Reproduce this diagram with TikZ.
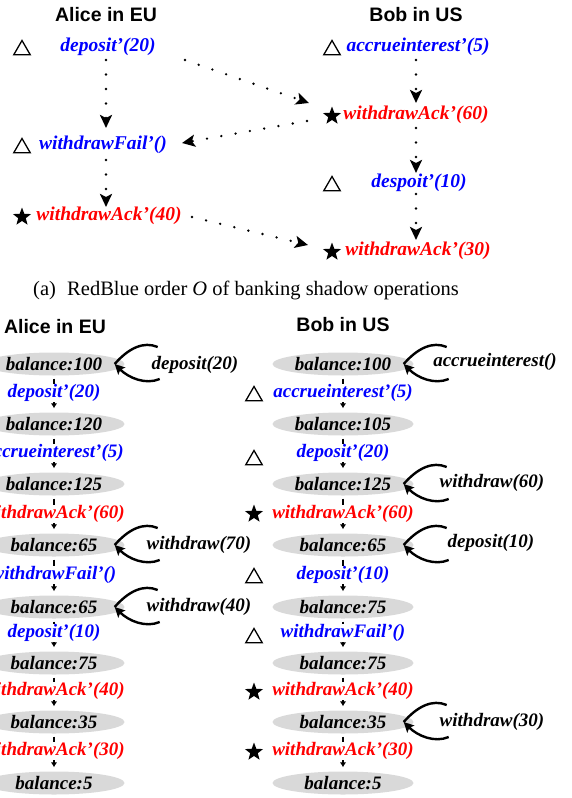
\documentclass[tikz,border=0pt]{standalone}
\usepackage{fontspec}
\setmainfont{Liberation Serif}
\newfontfamily\hdrfont{Liberation Sans}
\usetikzlibrary{arrows.meta,shapes.geometric}
\definecolor{opblue}{RGB}{0,0,255}
\definecolor{opred}{RGB}{255,0,0}
\definecolor{balgray}{RGB}{217,217,217}
\tikzset{
  hdr/.style={font=\hdrfont\bfseries\fontsize{19.5}{22}\selectfont, inner sep=0pt},
  topop/.style={font=\bfseries\itshape\fontsize{19.5}{22}\selectfont, inner sep=0pt},
  lowop/.style={font=\bfseries\itshape\fontsize{19}{22}\selectfont, inner sep=0pt, fill=white},
  bluetxt/.style={text=opblue},
  redtxt/.style={text=opred},
  tri/.style={regular polygon, regular polygon sides=3, draw, line width=1.3pt, minimum size=19pt, inner sep=0pt},
  starsym/.style={star, star points=5, star point ratio=2.4, fill=black, minimum size=19pt, inner sep=0pt},
  dotarrow/.style={line width=2.6pt, line cap=round, dash pattern=on 0pt off 14.5pt, -{Stealth[length=13pt,width=12pt,inset=3pt]}},
  bal/.style={ellipse, fill=balgray, minimum width=141pt, minimum height=23pt, inner sep=0pt, font=\bfseries\itshape\fontsize{19}{22}\selectfont},
  flow/.style={line width=2pt, -{Latex[length=5pt,width=6.5pt]}},
  loopline/.style={line width=2.4pt},
  looparrow/.style={line width=2.4pt, -{Stealth[length=10pt,width=10pt,inset=2pt]}},
  looplbl/.style={font=\bfseries\itshape\fontsize{19}{22}\selectfont, inner sep=0pt},
}
\begin{document}
\begin{tikzpicture}[x=1pt,y=-1pt]
\useasboundingbox (0,0) rectangle (571,798);
% ---------- top part ----------
\node[hdr] (hA) at (106,15) {Alice in EU};
\node[hdr] (hB) at (416,15) {Bob in US};
\node[tri] (t1) at (22,50) {};
\node[topop,bluetxt] (d20) at (108,47) {deposit'(20)};
\node[tri] (t2) at (22,148) {};
\node[topop,bluetxt] (wf) at (103,145) {withdrawFail'()};
\node[starsym] (s40) at (22,217) {};
\node[topop,redtxt] (wa40) at (109,216) {withdrawAck'(40)};
\node[tri] (t3) at (332,50) {};
\node[topop,bluetxt] (ai5) at (418,47) {accrueinterest'(5)};
\node[starsym] (s60) at (332,116) {};
\node[topop,redtxt] (wa60) at (416,115) {withdrawAck'(60)};
\node[tri] (t4) at (332,186) {};
\node[topop,bluetxt] (dp10) at (419,183) {despoit'(10)};
\node[starsym] (s30) at (332,252) {};
\node[topop,redtxt] (wa30) at (418,251) {withdrawAck'(30)};
\draw[dotarrow] ([shift={(-2,4)}]d20.south) -- ([shift={(3,-8)}]wf.north);
\draw[dotarrow] ([shift={(3,6)}]wf.south) -- ([shift={(-3,0)}]wa40.north);
\draw[dotarrow] ([shift={(-2,4)}]ai5.south) -- ([shift={(0,-3)}]wa60.north);
\draw[dotarrow] ([shift={(0,4)}]wa60.south) -- ([shift={(-3,-1)}]dp10.north);
\draw[dotarrow] ([shift={(-3,2)}]dp10.south) -- ([shift={(-2,-2)}]wa30.north);
\draw[dotarrow] ([shift={(77,13)}]d20.center) -- ([shift={(-23,-13)}]s60.center);
\draw[dotarrow] ([shift={(-25,5)}]s60.center) -- ([shift={(79,-2)}]wf.center);
\draw[dotarrow] ([shift={(83,1)}]wa40.center) -- ([shift={(-24,-7)}]s30.center);
% ---------- caption ----------
\node[anchor=west, font=\fontsize{20.5}{24}\selectfont, inner sep=0pt] (cap) at (33,290)
  {(a)\hspace{0.55em}RedBlue order \textit{O} of banking shadow operations};
% ---------- lower part ----------
\node[hdr] (hA2) at (55,327) {Alice in EU};
\node[hdr] (hB2) at (343,325) {Bob in US};
\node[bal] (bA1) at (54,364) {balance:100};
\node[bal] (bA2) at (54,424) {balance:120};
\node[bal] (bA3) at (54,484) {balance:125};
\node[bal] (bA4) at (54,545) {balance:65};
\node[bal] (bA5) at (54,607) {balance:65};
\node[bal] (bA6) at (54,663) {balance:75};
\node[bal] (bA7) at (54,722) {balance:35};
\node[bal] (bA8) at (54,783) {balance:5};
\node[bal] (bB1) at (343,364) {balance:100};
\node[bal] (bB2) at (343,424) {balance:105};
\node[bal] (bB3) at (343,484) {balance:125};
\node[bal] (bB4) at (343,545) {balance:65};
\node[bal] (bB5) at (343,607) {balance:75};
\node[bal] (bB6) at (343,663) {balance:75};
\node[bal] (bB7) at (343,722) {balance:35};
\node[bal] (bB8) at (343,783) {balance:5};
\foreach \c in {A,B}{
  \foreach \i/\j in {1/2,2/3,3/4,4/5,5/6,6/7,7/8}{
    \draw[flow] ([shift={(0,3)}]b\c\i.south) -- ([shift={(0,-4)}]b\c\j.north);
  }
}
\node[lowop,bluetxt] (oA1) at (54,393) {deposit'(20)};
\node[lowop,bluetxt] (oA2) at (54,453) {accrueinterest'(5)};
\node[lowop,redtxt]  (oA3) at (54,514) {withdrawAck'(60)};
\node[lowop,bluetxt] (oA4) at (54,575) {withdrawFail'()};
\node[lowop,bluetxt] (oA5) at (54,633) {deposit'(10)};
\node[lowop,redtxt]  (oA6) at (54,691) {withdrawAck'(40)};
\node[lowop,redtxt]  (oA7) at (54,751) {withdrawAck'(30)};
\node[lowop,bluetxt] (oB1) at (343,393) {accrueinterest'(5)};
\node[lowop,bluetxt] (oB2) at (343,453) {deposit'(20)};
\node[lowop,redtxt]  (oB3) at (343,514) {withdrawAck'(60)};
\node[lowop,bluetxt] (oB4) at (343,575) {deposit'(10)};
\node[lowop,bluetxt] (oB5) at (343,633) {withdrawFail'()};
\node[lowop,redtxt]  (oB6) at (343,691) {withdrawAck'(40)};
\node[lowop,redtxt]  (oB7) at (343,751) {withdrawAck'(30)};
\node[tri] (u1) at (254,396) {};
\node[tri] (u2) at (254,460) {};
\node[starsym] (u3) at (254,514) {};
\node[tri] (u4) at (254,578) {};
\node[tri] (u5) at (254,638) {};
\node[starsym] (u6) at (254,692) {};
\node[starsym] (u7) at (254,752) {};
% self loops
\foreach \n in {bA1,bA4,bA5,bB1,bB3,bB4,bB7}{
  \coordinate (\n t) at ([shift={(33,-17)}]\n.east);
  \coordinate (\n b) at ([shift={(35,15)}]\n.east);
  \coordinate (\n p) at ([shift={(-10,0)}]\n.east);
  \draw[loopline] (\n t) .. controls +(-14,-6) and +(14,-16) .. (\n p);
  \draw[looparrow] (\n b) .. controls +(-14,6) and +(14,14) .. (\n p);
}
\node[looplbl] (lA1) at (195,365) {deposit(20)};
\node[looplbl] (lA4) at (199,545) {withdraw(70)};
\node[looplbl] (lA5) at (199,607) {withdraw(40)};
\node[looplbl] (lB1) at (495,362) {accrueinterest()};
\node[looplbl] (lB3) at (492,483) {withdraw(60)};
\node[looplbl] (lB4) at (491,543) {deposit(10)};
\node[looplbl] (lB7) at (492,722) {withdraw(30)};
\end{tikzpicture}
\end{document}
